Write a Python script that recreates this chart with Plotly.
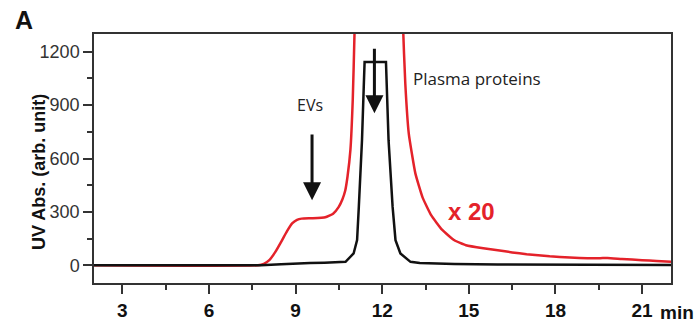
import plotly.graph_objects as go

# ---- data ----
red_x = [2.0, 7.7, 7.9, 8.1, 8.3, 8.53, 8.7, 8.88, 9.05, 9.21, 9.6, 10.03, 10.3, 10.49, 10.62,
         10.72, 10.8, 10.9, 10.98, 11.04, 11.1, 11.5, 12.3, 12.68, 12.72, 12.8, 12.92, 13.15,
         13.4, 13.7, 14.07, 14.5, 14.9, 15.5, 16.0, 16.5, 17.0, 17.8, 18.5, 19.5, 19.8, 20.3,
         21.0, 21.5, 22.0]
red_y = [0, 0, 8, 30, 75, 140, 190, 235, 255, 262, 264, 270, 290, 327, 370,
         420, 500, 650, 930, 1300, 2000, 5000, 5000, 2000, 1350, 1020, 740, 515,
         380, 280, 200, 140, 112, 95, 84, 72, 62, 50, 44, 39, 41, 35,
         28, 24, 20]

black_x = [2.0, 7.8, 8.5, 9.0, 9.5, 10.0, 10.5, 10.73, 11.01, 11.13, 11.19, 11.30, 11.36, 11.39,
           12.13, 12.22, 12.36, 12.46, 12.63, 12.98, 13.3, 13.7, 14.5, 16.0, 18.0, 20.0, 22.0]
black_y = [0, 0, 5, 10, 12, 14, 17, 19, 66, 141, 328, 703, 1000, 1143,
           1143, 703, 328, 141, 66, 19, 13, 10, 7, 4, 2, 1, 1]

x_ticks = [3, 6, 9, 12, 15, 18, 21]
y_ticks = [0, 300, 600, 900, 1200]

RED = "#e4222a"

fig = go.Figure()
fig.add_trace(go.Scatter(x=red_x, y=red_y, mode="lines",
                         line=dict(color=RED, width=2.5, shape="spline", smoothing=0.4),
                         hoverinfo="skip"))
fig.add_trace(go.Scatter(x=black_x, y=black_y, mode="lines",
                         line=dict(color="#111111", width=2.5, shape="linear"),
                         hoverinfo="skip"))

axis_common = dict(showgrid=False, zeroline=False, showline=True, linecolor="#333333",
                   linewidth=1.5, mirror=True, ticks="outside", tickcolor="#333333",
                   tickwidth=1.5, ticklen=9, automargin=False)

fig.update_xaxes(range=[2.02, 22.0], tickvals=x_ticks,
                 tickfont=dict(family="Liberation Sans, Arial",
                               size=19, color="#111111", weight="bold"),
                 minor=dict(dtick=1.5, tick0=0, ticks="outside", ticklen=5,
                            tickcolor="#333333", tickwidth=1.5),
                 **axis_common)
fig.update_yaxes(range=[-100, 1300], tickvals=y_ticks,
                 tickfont=dict(family="Liberation Sans, Arial", size=18, color="#333333"),
                 minor=dict(dtick=150, tick0=0, ticks="outside", ticklen=5,
                            tickcolor="#333333", tickwidth=1.5),
                 **axis_common)

anns = [
    # arrows
    dict(x=9.57, y=365, ax=9.57, ay=744, axref="x", ayref="y", xref="x", yref="y",
         text="", showarrow=True, arrowhead=2, arrowsize=1.2, arrowwidth=3, arrowcolor="#111111"),
    dict(x=11.73, y=855, ax=11.73, ay=1226, axref="x", ayref="y", xref="x", yref="y",
         text="", showarrow=True, arrowhead=2, arrowsize=1.2, arrowwidth=3, arrowcolor="#111111"),
    # labels
    dict(x=9.51, y=900, xref="x", yref="y", text="EVs", showarrow=False,
         font=dict(family="Open Sans, Noto Sans", size=16, color="#222222")),
    dict(x=13.0, y=1052, xref="x", yref="y", text="Plasma proteins", showarrow=False,
         xanchor="left", font=dict(family="Open Sans, Noto Sans", size=17, color="#222222")),
    dict(x=14.2, y=304, xref="x", yref="y", text="x 20", showarrow=False, xanchor="left",
         font=dict(family="Liberation Sans, Arial", size=24, color=RED, weight="bold")),
    dict(x=1.0, y=-0.118, xref="paper", yref="paper", text="min", showarrow=False,
         xanchor="left", yanchor="middle", xshift=-13,
         font=dict(family="Liberation Sans, Arial", size=19,
                   color="#111111", weight="bold")),
    dict(x=-0.141, y=1.0, xref="paper", yref="paper", text="A", showarrow=False,
         xanchor="left", yanchor="bottom", yshift=-2,
         font=dict(family="Liberation Sans, Arial", size=25, color="#111111", weight="bold")),
    dict(x=-0.116, y=0.446, xref="paper", yref="paper", text="UV Abs. (arb. unit)",
         showarrow=False, textangle=-90,
         font=dict(family="Liberation Sans, Arial", size=18, color="#111111", weight="bold")),
]

fig.update_layout(width=694, height=325, margin=dict(l=94, r=23, t=34, b=42),
                  plot_bgcolor="white", paper_bgcolor="white", showlegend=False,
                  annotations=anns)

fig.write_html("out.html", config={"displayModeBar": False},
               post_script="document.body.style.margin='0';document.body.style.overflow='hidden';")
